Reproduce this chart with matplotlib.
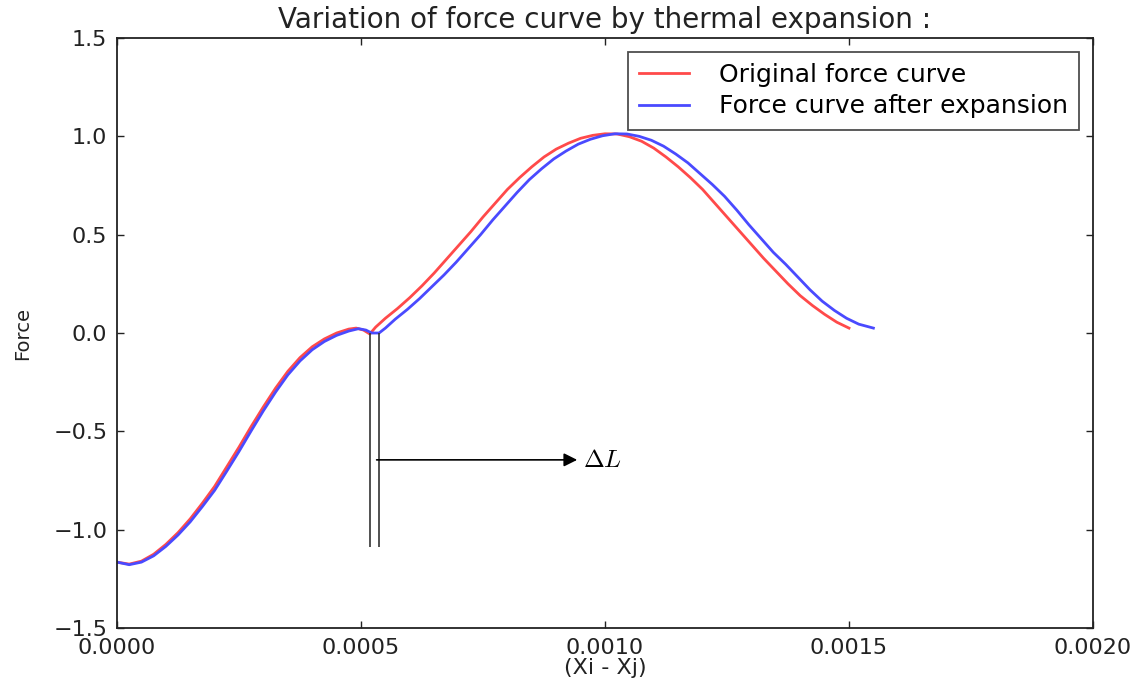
import matplotlib
matplotlib.use("Agg")
import matplotlib.pyplot as plt

plt.rcParams["font.family"] = ["DejaVu Sans"]
plt.rcParams["mathtext.fontset"] = "cm"

# original force curve (x in units of 1e-4)
red_x = [0, 0.25, 0.5, 0.75, 1.0, 1.25, 1.5, 1.75, 2.0, 2.25, 2.5, 2.75, 3.0,
         3.25, 3.5, 3.75, 4.0, 4.25, 4.5, 4.75, 4.9, 5.05, 5.18,
         5.3, 5.5, 5.75, 6.0, 6.25, 6.5, 6.75, 7.0, 7.25, 7.5, 7.75, 8.0,
         8.25, 8.5, 8.75, 9.0, 9.25, 9.5, 9.75, 10.0, 10.25, 10.5, 10.75,
         11.0, 11.25, 11.5, 11.75, 12.0, 12.25, 12.5, 12.75, 13.0, 13.25,
         13.5, 13.75, 14.0, 14.25, 14.5, 14.75, 15.0]
red_y = [-1.165, -1.175, -1.16, -1.125, -1.075, -1.015, -0.945, -0.865, -0.78,
         -0.68, -0.58, -0.475, -0.375, -0.28, -0.195, -0.125, -0.07, -0.03,
         0.0, 0.02, 0.025, 0.015, -0.005,
         0.03, 0.075, 0.125, 0.18, 0.24, 0.305, 0.375, 0.445, 0.515, 0.59,
         0.66, 0.73, 0.79, 0.845, 0.895, 0.935, 0.965, 0.99, 1.005, 1.013,
         1.012, 0.998, 0.975, 0.94, 0.895, 0.845, 0.79, 0.73, 0.66, 0.59,
         0.52, 0.45, 0.38, 0.315, 0.25, 0.19, 0.14, 0.095, 0.055, 0.025]

# force curve after expansion
blue_x = [0, 0.25, 0.5, 0.75, 1.0, 1.25, 1.5, 1.75, 2.0, 2.25, 2.5, 2.75, 3.0,
          3.25, 3.5, 3.75, 4.0, 4.25, 4.5, 4.75, 4.95, 5.1, 5.22,
          5.37, 5.5, 5.7, 5.95, 6.2, 6.45, 6.7, 6.95, 7.2, 7.45, 7.7, 7.95,
          8.2, 8.45, 8.7, 8.95, 9.2, 9.45, 9.7, 9.95, 10.2, 10.45, 10.7,
          10.95, 11.2, 11.45, 11.7, 11.95, 12.2, 12.45, 12.7, 12.95, 13.2,
          13.45, 13.7, 13.95, 14.2, 14.45, 14.7, 14.95, 15.2, 15.5]
blue_y = [-1.165, -1.178, -1.165, -1.133, -1.085, -1.027, -0.96, -0.882, -0.8,
          -0.702, -0.602, -0.497, -0.395, -0.3, -0.213, -0.142, -0.085,
          -0.043, -0.012, 0.01, 0.022, 0.015, 0.0,
          0.0, 0.025, 0.07, 0.12, 0.175, 0.235, 0.295, 0.36, 0.43, 0.5,
          0.575, 0.645, 0.715, 0.78, 0.835, 0.885, 0.925, 0.96, 0.985, 1.003,
          1.013, 1.012, 1.0, 0.98, 0.95, 0.91, 0.865, 0.81, 0.755, 0.695,
          0.625, 0.55, 0.48, 0.41, 0.35, 0.285, 0.22, 0.162, 0.115, 0.075,
          0.045, 0.025]

red_x = [v * 1e-4 for v in red_x]
blue_x = [v * 1e-4 for v in blue_x]

# delta L markers
dl_lines = [0.000518, 0.000537]
dl_bottom = -1.09
arrow_y = -0.645
arrow_from = 0.000532
arrow_to = 0.000943

xticks = [0.0, 0.0005, 0.0010, 0.0015, 0.0020]
xtick_labels = ["0.0000", "0.0005", "0.0010", "0.0015", "0.0020"]
yticks = [-1.5, -1.0, -0.5, 0.0, 0.5, 1.0, 1.5]
ytick_labels = ["\u22121.5", "\u22121.0", "\u22120.5", "0.0", "0.5", "1.0", "1.5"]

fig = plt.figure(figsize=(11.44, 6.81), dpi=100)
ax = fig.add_axes([0.1023, 0.0778, 0.8531, 0.8664])

ax.plot(red_x, red_y, color="#ff4a4a", lw=2, label="Original force curve")
ax.plot(blue_x, blue_y, color="#4a4aff", lw=2, label="Force curve after expansion")

ax.vlines(dl_lines, dl_bottom, 0.0, color="#333333", lw=1.2)
ax.annotate("", xy=(arrow_to, arrow_y), xytext=(arrow_from, arrow_y),
            arrowprops=dict(arrowstyle="-|>", color="black", lw=1.2,
                            mutation_scale=20, shrinkA=0, shrinkB=0))
ax.text(arrow_to + 0.000012, arrow_y, r"$\Delta L$", fontsize=18,
        va="center", ha="left")

ax.set_xlim(0, 0.002)
ax.set_ylim(-1.5, 1.5)
ax.set_xticks(xticks)
ax.set_xticklabels(xtick_labels)
ax.set_yticks(yticks)
ax.set_yticklabels(ytick_labels)
ax.tick_params(direction="in", top=True, right=True, length=5, width=1,
               labelsize=16, colors="#222222")
ax.tick_params(axis="x", pad=7)
ax.tick_params(axis="y", pad=7)
for s in ax.spines.values():
    s.set_color("#222222")
    s.set_linewidth(1.3)

ax.set_title("Variation of force curve by thermal expansion :", fontsize=20,
             color="#222222", pad=7)
ax.set_xlabel("(Xi - Xj)", fontsize=16, labelpad=0, color="#222222")
ax.set_ylabel("Force", fontsize=14, labelpad=15, color="#222222")

leg = ax.legend(loc="upper right", fontsize=18, fancybox=False,
                borderaxespad=0.55, handlelength=2.0, handletextpad=1.2,
                labelspacing=0.3, borderpad=0.45)
leg.get_frame().set_edgecolor("#222222")
leg.get_frame().set_linewidth(1.3)

fig.savefig("out.png", dpi=100)
